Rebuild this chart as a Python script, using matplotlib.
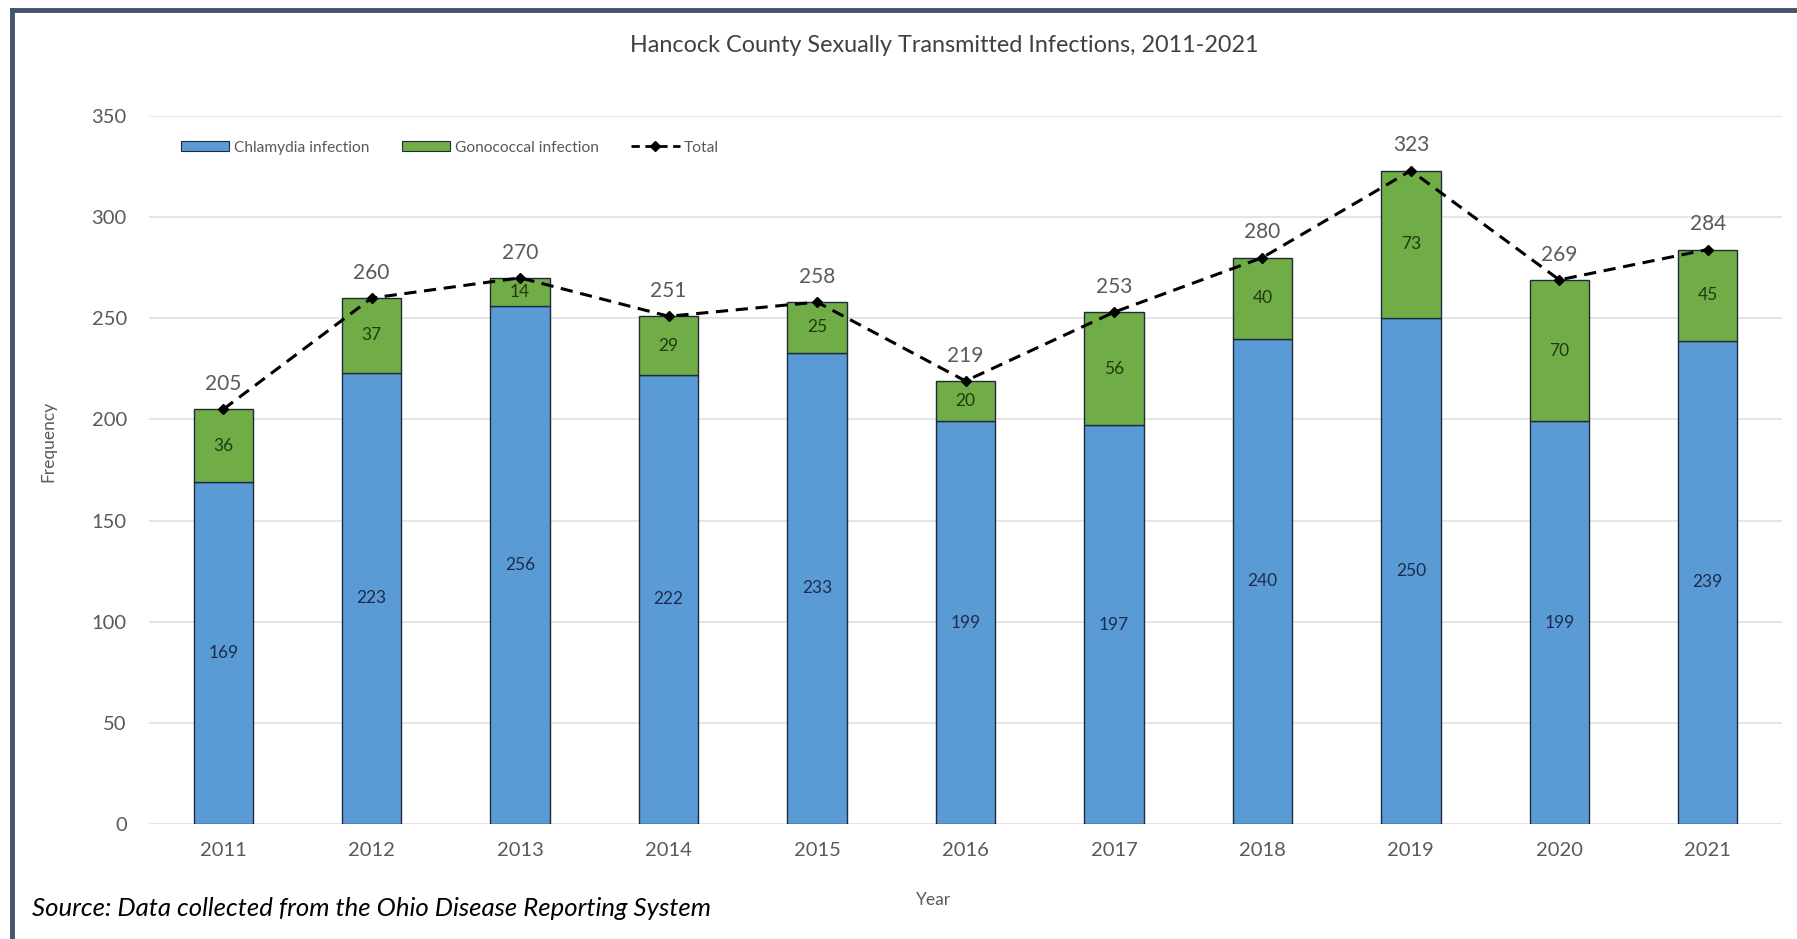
import matplotlib
matplotlib.use("Agg")
import matplotlib.pyplot as plt
from matplotlib.lines import Line2D
import numpy as np

years = ["2011", "2012", "2013", "2014", "2015", "2016", "2017", "2018", "2019", "2020", "2021"]
chlamydia = [169, 223, 256, 222, 233, 199, 197, 240, 250, 199, 239]
gonococcal = [36, 37, 14, 29, 25, 20, 56, 40, 73, 70, 45]
totals = [205, 260, 270, 251, 258, 219, 253, 280, 323, 269, 284]
yticks = [0, 50, 100, 150, 200, 250, 300, 350]

plt.rcParams['font.family'] = ['Lato', 'DejaVu Sans']

W, H = 1797, 939
fig = plt.figure(figsize=(W / 100, H / 100), dpi=100)
fig.patch.set_facecolor("white")

ax = fig.add_axes([149 / W, 1 - 824 / H, (1782 - 149) / W, (824 - 116) / H])
x = np.arange(len(years))
blue = "#5B9BD5"
green = "#70AD47"
bw = 0.40
ax.bar(x, chlamydia, width=bw, color=blue, edgecolor="#1f2a3a", linewidth=1.0, zorder=2,
       label="Chlamydia infection")
ax.bar(x, gonococcal, width=bw, bottom=chlamydia, color=green, edgecolor="#1f2a3a",
       linewidth=1.0, zorder=2, label="Gonococcal infection")
ax.plot(x, totals, color="black", linestyle=(0, (4, 2.5)), linewidth=2.2, marker="D",
        markersize=5.5, zorder=4, label="Total")

for xi, c, g, t in zip(x, chlamydia, gonococcal, totals):
    ax.text(xi, c / 2, str(c), ha="center", va="center", fontsize=12.5, color="#1c2c4c", zorder=5)
    ax.text(xi, c + g / 2, str(g), ha="center", va="center", fontsize=12.5, color="#1f3a12", zorder=5)
    ax.annotate(str(t), (xi, t), xytext=(0, 11), textcoords="offset points", ha="center",
                va="bottom", fontsize=15, color="#595959", zorder=5)

ax.set_xlim(-0.5, 10.5)
ax.set_ylim(0, 350)
ax.set_yticks(yticks)
ax.set_xticks(x)
ax.set_xticklabels(years)
ax.tick_params(axis="both", length=0, labelsize=14.5, labelcolor="#595959")
ax.tick_params(axis="x", pad=13)
ax.tick_params(axis="y", pad=16)
ax.grid(axis="y", color="#e3e3e3", linewidth=1.3, zorder=0)
ax.set_axisbelow(True)
for s in ax.spines.values():
    s.set_visible(False)

handles = [
    plt.Rectangle((0, 0), 1, 1, facecolor=blue, edgecolor="#1f2a3a", linewidth=0.8),
    plt.Rectangle((0, 0), 1, 1, facecolor=green, edgecolor="#1f2a3a", linewidth=0.8),
    Line2D([0], [0], color="black", linestyle=(0, (3, 2)), linewidth=2, marker="D", markersize=5),
]
leg = ax.legend(handles, ["Chlamydia infection", "Gonococcal infection", "Total"],
                loc="upper left", bbox_to_anchor=(0.011, 0.985), ncol=3, frameon=False,
                fontsize=11.2, labelcolor="#595959", handlelength=3.1, handleheight=0.6,
                columnspacing=2.1, handletextpad=0.3)

fig.text(944 / W, 1 - 45 / H, "Hancock County Sexually Transmitted Infections, 2011-2021",
         ha="center", va="center", fontsize=16.8, color="#404040")
fig.text(48 / W, 1 - 441 / H, "Frequency", rotation=90, ha="center", va="center",
         fontsize=12.5, color="#595959")
fig.text(934 / W, 1 - 900 / H, "Year", ha="center", va="center", fontsize=12.5, color="#595959")
fig.text(32 / W, 1 - 908 / H, "Source: Data collected from the Ohio Disease Reporting System",
         ha="left", va="center", fontsize=18.5, style="italic", color="black")

# frame lines (top and left)
fig.add_artist(Line2D([12 / W, 1], [1 - 10 / H, 1 - 10 / H], color="#44546A", linewidth=3.5))
fig.add_artist(Line2D([12 / W, 12 / W], [0, 1 - 10 / H], color="#44546A", linewidth=3.5))

fig.savefig("out.png", dpi=100, facecolor="white")
